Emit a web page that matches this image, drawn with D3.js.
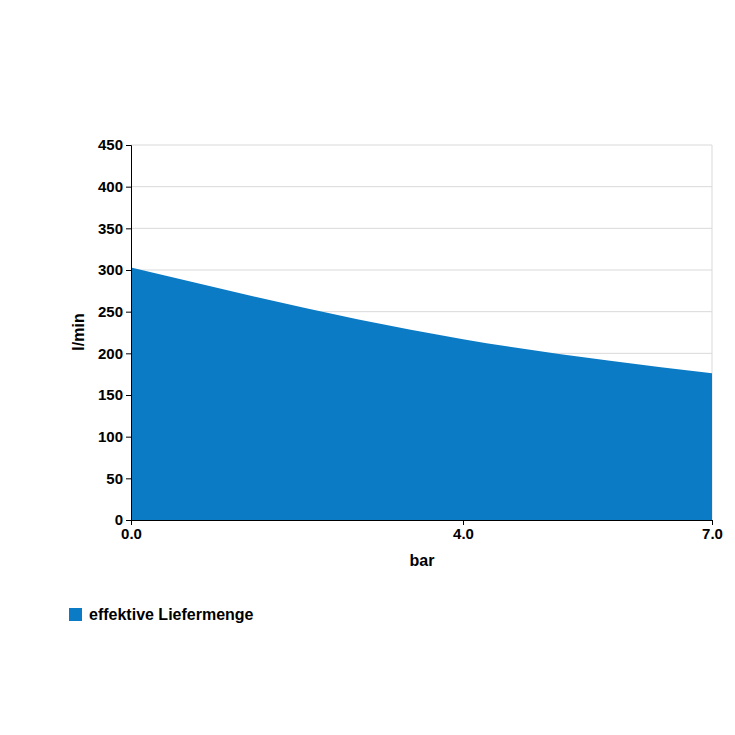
<!DOCTYPE html>
<html><head><meta charset="utf-8">
<script src="https://cdn.jsdelivr.net/npm/d3@7"></script>
<style>body{margin:0;background:#fff}svg{font-family:"Liberation Sans",Arial,sans-serif}</style>
</head><body>
<svg id="c" width="735" height="735"></svg>
<script>
const pressures = [0, 4, 7];
const flow = [303, 217, 176];
const xTicks = [0, 4, 7];
const yTicks = [0, 50, 100, 150, 200, 250, 300, 350, 400, 450];
const seriesName = "effektive Liefermenge";

const svg = d3.select("#c");
const L = 131, R = 712, T = 145, B = 520;
const x = d3.scaleLinear().domain([0, 7]).range([L, R]);
const y = d3.scaleLinear().domain([0, 450]).range([B, T]);
const data = pressures.map((p, i) => ({p, v: flow[i]}));

svg.append("g").selectAll("line").data(yTicks.slice(1)).join("line")
  .attr("x1", L).attr("x2", R).attr("y1", d => y(d)).attr("y2", d => y(d))
  .attr("stroke", "#d9d9d9");
svg.append("line").attr("x1", R).attr("x2", R).attr("y1", T).attr("y2", B).attr("stroke", "#d9d9d9");

svg.append("path").datum(data)
  .attr("d", d3.area().x(d => x(d.p)).y0(y(0)).y1(d => y(d.v)).curve(d3.curveMonotoneX))
  .attr("fill", "#0a7bc4");

const ya = svg.append("g").attr("transform", `translate(${L},0)`)
  .call(d3.axisLeft(y).tickValues(yTicks).tickSize(5).tickPadding(3));
const xa = svg.append("g").attr("transform", `translate(0,${B})`)
  .call(d3.axisBottom(x).tickValues(xTicks).tickSize(5).tickPadding(3));
[ya, xa].forEach(a => {
  a.selectAll("text").attr("font-size", 15).attr("font-weight", "bold").attr("fill", "#000")
   .attr("font-family", "Liberation Sans, Arial, sans-serif");
  a.selectAll("line,path").attr("stroke", "#000");
});

svg.append("text").attr("x", 422).attr("y", 566).attr("text-anchor", "middle")
  .attr("font-size", 16).attr("font-weight", "bold").text("bar");
svg.append("text").attr("transform", "translate(84,332) rotate(-90)").attr("text-anchor", "middle")
  .attr("font-size", 16).attr("font-weight", "bold").text("l/min");

svg.append("rect").attr("x", 69).attr("y", 608).attr("width", 13).attr("height", 13).attr("fill", "#0a7bc4");
svg.append("text").attr("x", 89).attr("y", 620).attr("font-size", 16).attr("font-weight", "bold").text(seriesName);
</script>
</body></html>
